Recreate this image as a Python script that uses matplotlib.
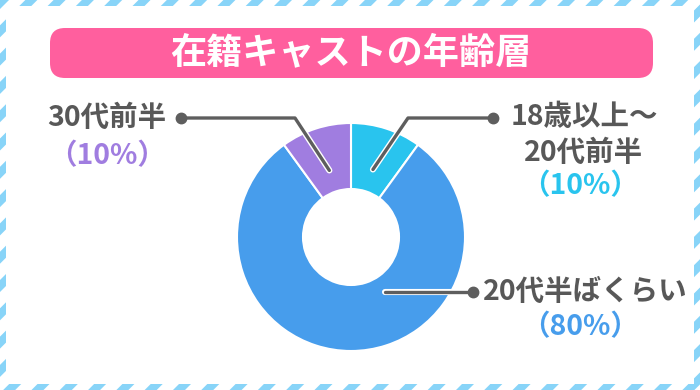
import numpy as np
import matplotlib
matplotlib.use("Agg")
import matplotlib.pyplot as plt
import matplotlib.patheffects as pe
from matplotlib.patches import FancyBboxPatch, Polygon, Rectangle

plt.rcParams['font.family'] = ['Noto Sans CJK JP', 'DejaVu Sans']

title = "在籍キャストの年齢層"
labels = ["18歳以上～\n20代前半", "20代半ばくらい", "30代前半"]
values = [10, 80, 10]
colors = ["#29c4ee", "#479dec", "#a07de0"]

W, H = 700, 390
fig = plt.figure(figsize=(W / 100, H / 100), dpi=100)

# background axes in pixel coords (y down)
bg = fig.add_axes([0, 0, 1, 1])
bg.set_xlim(0, W)
bg.set_ylim(H, 0)
bg.axis("off")

# striped border
bg.add_patch(Rectangle((0, 0), W, H, facecolor="white", edgecolor="none", zorder=0))
for a in np.arange(-3, W + H + 30, 28.3):
    bg.add_patch(Polygon([(a, 0), (a + 12, 0), (a + 12 - H, H), (a - H, H)],
                         closed=True, facecolor="#88d4f8", edgecolor="none", zorder=1))
bg.add_patch(Rectangle((6, 6), W - 12, H - 12, facecolor="white", edgecolor="none", zorder=2))

# title banner
bg.add_patch(FancyBboxPatch((50, 28), 603, 50, boxstyle="round,pad=0,rounding_size=15",
                            facecolor="#ff5f9e", edgecolor="none", zorder=3))
bg.text(351, 53, title, ha="center", va="center", color="white", fontsize=26,
        fontweight="bold", zorder=4)

# donut
cx, cy, R, r_in = 351, 237, 114, 48
pax = fig.add_axes([(cx - R) / W, 1 - (cy + R) / H, 2 * R / W, 2 * R / H])
pax.pie(values, colors=colors, startangle=90, counterclock=False, radius=1,
        wedgeprops=dict(width=(R - r_in) / R, edgecolor="white", linewidth=1.5))
pax.set_xlim(-1, 1)
pax.set_ylim(-1, 1)
pax.set_aspect("auto")
pax.axis("off")

# overlay for leaders and labels
ax = fig.add_axes([0, 0, 1, 1])
ax.set_xlim(0, W)
ax.set_ylim(H, 0)
ax.axis("off")
ax.patch.set_alpha(0)

lc = "#5e5e5e"
stroke = [pe.Stroke(linewidth=4.4, foreground="white"), pe.Normal()]

def mid_point(i, rr):
    start = 90 - 360 * sum(values[:i]) / sum(values)
    ang = np.radians(start - 180 * values[i] / sum(values))
    return cx + rr * np.cos(ang), cy - rr * np.sin(ang)

def leader(pts, dot):
    xs, ys = zip(*pts)
    ax.plot(xs, ys, color=lc, lw=2.4, solid_capstyle="round", solid_joinstyle="round",
            path_effects=stroke, zorder=5)
    ax.plot(*dot, "o", color=lc, ms=7.5, zorder=6)

e0 = mid_point(0, 71)
leader([e0, (408, 118), (493, 118)], (493, 118))
e2 = mid_point(2, 70)
leader([e2, (295, 118), (181, 118)], (181, 118))
leader([(385, 292), (473, 292)], (473, 292))

tc = "#585858"
fs = 20.5
ax.text(107, 118, labels[2], ha="center", va="center", color=tc, fontsize=fs,
        fontweight="bold", zorder=6)
ax.text(107, 156, "（%d%%）" % values[2], ha="center", va="center", color=colors[2],
        fontsize=fs, fontweight="bold", zorder=6)

l1, l2 = labels[0].split("\n")
ax.text(584, 117, l1, ha="center", va="center", color=tc, fontsize=fs,
        fontweight="bold", zorder=6)
ax.text(584, 153, l2, ha="center", va="center", color=tc, fontsize=fs,
        fontweight="bold", zorder=6)
ax.text(580, 186, "（%d%%）" % values[0], ha="center", va="center", color=colors[0],
        fontsize=fs, fontweight="bold", zorder=6)

ax.text(585, 292, labels[1], ha="center", va="center", color=tc, fontsize=fs,
        fontweight="bold", zorder=6)
ax.text(580, 327, "（%d%%）" % values[1], ha="center", va="center", color=colors[1],
        fontsize=fs, fontweight="bold", zorder=6)

fig.savefig("out.png", dpi=100)
